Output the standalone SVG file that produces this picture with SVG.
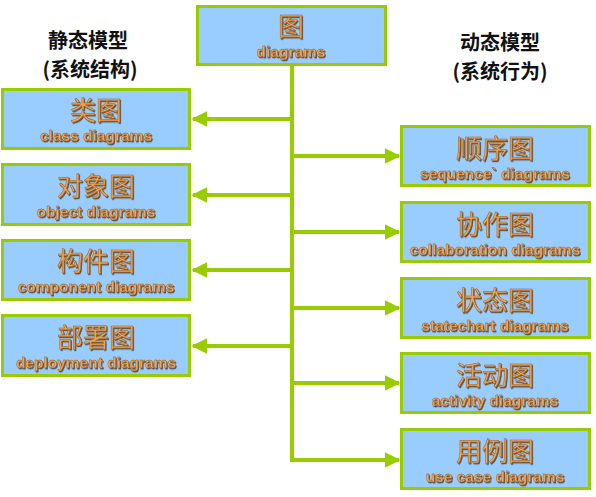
<svg xmlns="http://www.w3.org/2000/svg" width="596" height="497" viewBox="0 0 596 497">
<style>
.box{fill:#99ccff;stroke:#99cc00;stroke-width:3}
.cn{font-family:"Noto Sans CJK SC",sans-serif;font-size:26px;text-anchor:middle;fill:#f6a455;stroke:#9a6020;stroke-width:0.5;filter:url(#sd)}
.en{font-family:"Liberation Sans",Arial,sans-serif;font-weight:bold;font-size:15.5px;text-anchor:middle;fill:#f6a455;stroke:#8a5010;stroke-width:0.35;filter:url(#sd)}
.hd{font-family:"Noto Sans CJK SC",sans-serif;font-weight:bold;font-size:20px;text-anchor:middle;fill:#111}
.ln{stroke:#99cc00;stroke-width:4;fill:none}
</style>
<defs>
<filter id="sd" x="-10%" y="-20%" width="130%" height="150%">
<feDropShadow dx="1" dy="1.2" stdDeviation="0.4" flood-color="#3a2a10" flood-opacity="0.75"/>
</filter>
<marker id="ah" markerWidth="4" markerHeight="4" refX="3.6" refY="2" orient="auto" markerUnits="strokeWidth">
<path d="M0,0 L4,2 L0,4 Z" fill="#99cc00"/>
</marker>
</defs>
<g id="headers">
<text class="hd" x="88" y="48">静态模型</text>
<text class="hd" x="90" y="77">(系统结构)</text>
<text class="hd" x="500" y="50">动态模型</text>
<text class="hd" x="500" y="79">(系统行为)</text>
</g>
<g id="connectors">
<line class="ln" x1="292" y1="65" x2="292" y2="460"/>
<line class="ln" x1="292" y1="119" x2="193" y2="119" marker-end="url(#ah)"/>
<line class="ln" x1="292" y1="195" x2="193" y2="195" marker-end="url(#ah)"/>
<line class="ln" x1="292" y1="270" x2="193" y2="270" marker-end="url(#ah)"/>
<line class="ln" x1="292" y1="346" x2="193" y2="346" marker-end="url(#ah)"/>
<line class="ln" x1="290" y1="156" x2="399" y2="156" marker-end="url(#ah)"/>
<line class="ln" x1="290" y1="232" x2="399" y2="232" marker-end="url(#ah)"/>
<line class="ln" x1="290" y1="308" x2="399" y2="308" marker-end="url(#ah)"/>
<line class="ln" x1="290" y1="383" x2="399" y2="383" marker-end="url(#ah)"/>
<line class="ln" x1="290" y1="460" x2="399" y2="460" marker-end="url(#ah)"/>
</g>
<g id="top">
<rect class="box" x="197.5" y="6.5" width="188" height="58"/>
<text class="cn" x="291" y="36">图</text>
<text class="en" x="291" y="57">diagrams</text>
</g>
<g id="class">
<rect class="box" x="2.5" y="89.5" width="187" height="59"/>
<text class="cn" x="96" y="120">类图</text>
<text class="en" x="96" y="141">class diagrams</text>
</g>
<g id="object">
<rect class="box" x="2.5" y="164.5" width="187" height="60"/>
<text class="cn" x="96" y="196">对象图</text>
<text class="en" x="96" y="217">object diagrams</text>
</g>
<g id="component">
<rect class="box" x="2.5" y="240.5" width="187" height="59"/>
<text class="cn" x="96" y="271">构件图</text>
<text class="en" x="96" y="292">component diagrams</text>
</g>
<g id="deployment">
<rect class="box" x="2.5" y="315.5" width="187" height="60"/>
<text class="cn" x="96" y="347">部署图</text>
<text class="en" x="96" y="368">deployment diagrams</text>
</g>
<g id="sequence">
<rect class="box" x="401.5" y="126.5" width="188" height="59"/>
<text class="cn" x="495" y="158">顺序图</text>
<text class="en" x="495" y="179">sequence` diagrams</text>
</g>
<g id="collaboration">
<rect class="box" x="401.5" y="202.5" width="188" height="59"/>
<text class="cn" x="495" y="234">协作图</text>
<text class="en" x="495" y="255">collaboration diagrams</text>
</g>
<g id="statechart">
<rect class="box" x="401.5" y="278.5" width="188" height="59"/>
<text class="cn" x="495" y="310">状态图</text>
<text class="en" x="495" y="331">statechart diagrams</text>
</g>
<g id="activity">
<rect class="box" x="401.5" y="353.5" width="188" height="59"/>
<text class="cn" x="495" y="385">活动图</text>
<text class="en" x="495" y="406">activity diagrams</text>
</g>
<g id="usecase">
<rect class="box" x="401.5" y="429.5" width="188" height="59"/>
<text class="cn" x="495" y="461">用例图</text>
<text class="en" x="495" y="482">use case diagrams</text>
</g>
</svg>
